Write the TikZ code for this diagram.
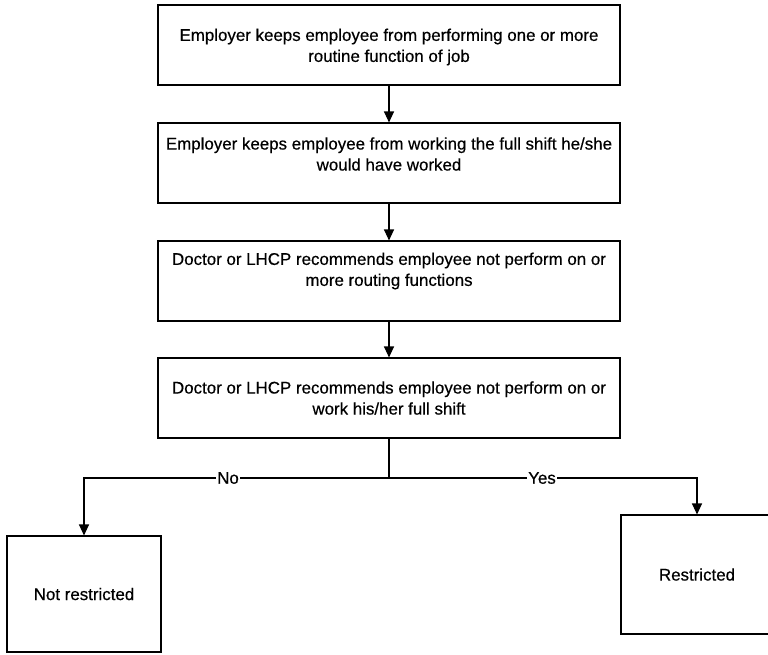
\documentclass[tikz,border=0pt]{standalone}
\usepackage{fontspec}
\setmainfont{Liberation Sans}[UprightFeatures={FakeBold=0.5}]
\usetikzlibrary{arrows.meta}
\begin{document}
\begin{tikzpicture}[x=1pt,y=-1pt,
  every node/.style={font=\fontsize{16.9}{21}\selectfont},
  stepbox/.style={draw,line width=1.1pt,minimum width=462pt,minimum height=80pt,inner sep=0pt},
  steptext/.style={align=center,inner sep=0pt},
  endbox/.style={draw,line width=1.1pt,inner sep=0pt},
  flow/.style={line width=1.1pt,-{Triangle[length=11pt,width=10pt]}},
  branch/.style={fill=white,inner xsep=1pt,inner ysep=0pt}]
  \useasboundingbox (0,0) rectangle (768,654);
  \clip (0,0) rectangle (768,654);

  % main sequence of checks: frames, then their texts
  \node[stepbox] (b1) at (389,45)  {};
  \node[stepbox] (b2) at (389,163) {};
  \node[stepbox] (b3) at (389,281) {};
  \node[stepbox] (b4) at (389,398) {};
  \node[steptext] (t1) at (389,47)  {Employer keeps employee from performing one or more\\routine function of job};
  \node[steptext] (t2) at (389,154) {Employer keeps employee from working the full shift he/she\\would have worked};
  \node[steptext] (t3) at (389,271) {Doctor or LHCP recommends employee not perform on or\\more routing functions};
  \node[steptext] (t4) at (389,398) {Doctor or LHCP recommends employee not perform on or\\work his/her full shift};

  % outcomes
  \node[endbox,minimum width=154pt,minimum height=116pt] (no)  at (84,594)  {Not restricted};
  \node[endbox,minimum width=152pt,minimum height=119pt] (yes) at (697,574.5) {Restricted};

  \draw[flow] (b1) -- (b2);
  \draw[flow] (b2) -- (b3);
  \draw[flow] (b3) -- (b4);

  % decision split
  \coordinate (split) at (389,478);
  \draw[line width=1.1pt] (b4.south) -- (split);
  \draw[flow] (split) -- (84,478) -- (no.north);
  \draw[flow] (split) -- (697,478) -- (yes.north);
  \node[branch] (lno)  at (228,478) {No};
  \node[branch] (lyes) at (542,478) {Yes};
\end{tikzpicture}
\end{document}
